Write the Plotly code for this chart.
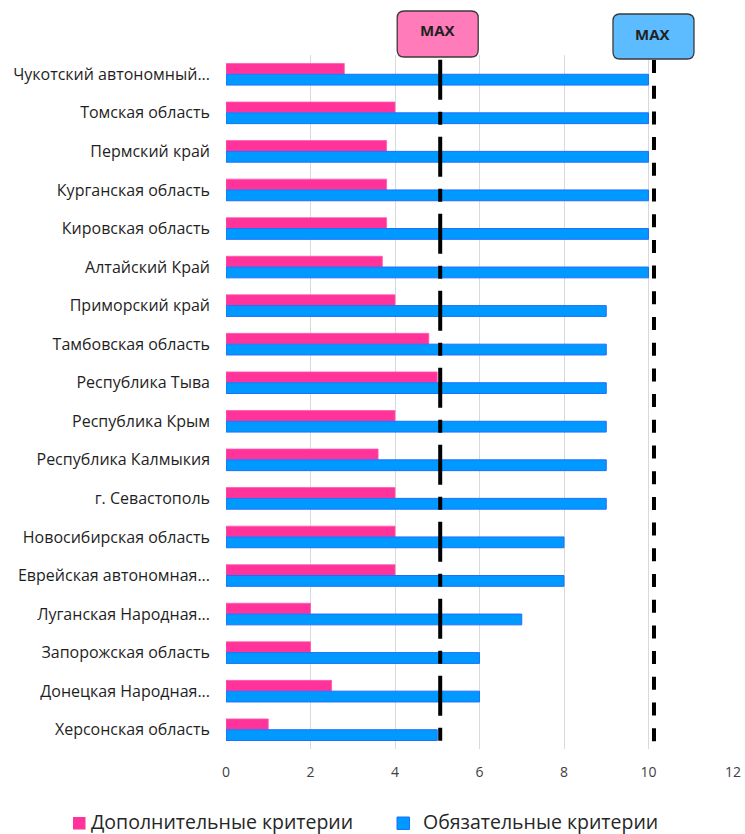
import plotly.graph_objects as go

# Regions, listed top to bottom as they appear on the chart
regions = [
    "Чукотский автономный...",
    "Томская область",
    "Пермский край",
    "Курганская область",
    "Кировская область",
    "Алтайский Край",
    "Приморский край",
    "Тамбовская область",
    "Республика Тыва",
    "Республика Крым",
    "Республика Калмыкия",
    "г. Севастополь",
    "Новосибирская область",
    "Еврейская автономная...",
    "Луганская Народная...",
    "Запорожская область",
    "Донецкая Народная...",
    "Херсонская область",
]

extra_scores = [2.8, 4, 3.8, 3.8, 3.8, 3.7, 4, 4.8, 5, 4, 3.6, 4, 4, 4, 2, 2, 2.5, 1]
mandatory_scores = [10, 10, 10, 10, 10, 10, 9, 9, 9, 9, 9, 9, 8, 8, 7, 6, 6, 5]

series_names = ["Дополнительные критерии", "Обязательные критерии"]
x_ticks = [0, 2, 4, 6, 8, 10, 12]

# Maximum marks for each group of criteria
max_extra = 5.07
max_mandatory = 10.13

PINK = "#ff3399"
BLUE = "#0099ff"

W, H = 745, 834
ML, MR, MT, MB = 226, 12, 55, 85
PW, PH = W - ML - MR, H - MT - MB


def px_to_paper_x(px):
    return (px - ML) / PW


def px_to_paper_y(py):
    return (H - MB - py) / PH


fig = go.Figure()
fig.add_trace(go.Bar(
    y=regions, x=extra_scores, orientation="h", name=series_names[0],
    marker=dict(color=PINK, line=dict(color="#ff5aac", width=0.8)),
    showlegend=False,
))
fig.add_trace(go.Bar(
    y=regions, x=mandatory_scores, orientation="h", name=series_names[1],
    marker=dict(color=BLUE, line=dict(color="#1f6fff", width=1)),
    showlegend=False,
))


def rounded_box(x0, x1, y0, y1, r):
    return (
        f"M {x0 + r},{y0} L {x1 - r},{y0} Q {x1},{y0} {x1},{y0 + r} "
        f"L {x1},{y1 - r} Q {x1},{y1} {x1 - r},{y1} "
        f"L {x0 + r},{y1} Q {x0},{y1} {x0},{y1 - r} "
        f"L {x0},{y0 + r} Q {x0},{y0} {x0 + r},{y0} Z"
    )


# dashed max lines (pixel offsets measured from the top of the plot area)
fig.add_shape(type="line", xref="x", yref="paper",
              xsizemode="pixel", xanchor=max_extra, x0=0, x1=0,
              ysizemode="pixel", yanchor=1, y0=-4.7, y1=-686.5,
              line=dict(color="black", width=4, dash="40px,12px,13px,12px"))
fig.add_shape(type="line", xref="x", yref="paper",
              xsizemode="pixel", xanchor=max_mandatory, x0=0, x1=0,
              ysizemode="pixel", yanchor=1, y0=-5, y1=-686.5,
              line=dict(color="black", width=4, dash="13px,12.7px"))

# MAX label boxes
fig.add_shape(type="path", xref="x", yref="paper",
              xsizemode="pixel", xanchor=max_extra,
              ysizemode="pixel", yanchor=1,
              path=rounded_box(-43, 38, -2, 44, 7),
              fillcolor="#ff7bb9", line=dict(color="#3a3a3a", width=1.3))
fig.add_shape(type="path", xref="x", yref="paper",
              xsizemode="pixel", xanchor=max_mandatory,
              ysizemode="pixel", yanchor=1,
              path=rounded_box(-41, 40, -4, 41, 7),
              fillcolor="#5cbcff", line=dict(color="#3a3a3a", width=1.3))

fig.add_annotation(x=max_extra, y=1, xref="x", yref="paper",
                   xanchor="center", yanchor="middle",
                   xshift=-3, yshift=25, text="<b>MAX</b>", showarrow=False,
                   font=dict(family="Open Sans", size=15, color="#222222"))
fig.add_annotation(x=max_mandatory, y=1, xref="x", yref="paper",
                   xanchor="center", yanchor="middle",
                   xshift=-1, yshift=21, text="<b>MAX</b>", showarrow=False,
                   font=dict(family="Open Sans", size=15, color="#222222"))

# legend drawn below the chart: square swatch followed by the series name
legend_items = [
    (series_names[0], PINK, None, 73, 89),
    (series_names[1], BLUE, "#1f6fff", 397, 421),
]
for name, color, edge, sq_x, text_x in legend_items:
    fig.add_shape(type="rect", xref="paper", yref="paper",
                  x0=px_to_paper_x(sq_x), x1=px_to_paper_x(sq_x + 12.5),
                  y0=px_to_paper_y(817), y1=px_to_paper_y(829.5),
                  fillcolor=color,
                  line=dict(color=edge or color, width=1 if edge else 0))
    fig.add_annotation(x=px_to_paper_x(text_x), y=px_to_paper_y(821),
                       xref="paper", yref="paper", xanchor="left",
                       yanchor="middle", text=name, showarrow=False,
                       font=dict(family="Open Sans", size=19.5,
                                 color="#262626"))

fig.update_layout(
    width=W, height=H,
    margin=dict(l=ML, r=MR, t=MT, b=MB),
    paper_bgcolor="white", plot_bgcolor="white",
    barmode="group", bargap=0.44, bargroupgap=0,
    font=dict(family="Open Sans", color="#262626"),
    showlegend=False,
    xaxis=dict(
        range=[0, 12], tickvals=x_ticks, ticktext=[str(v) for v in x_ticks],
        showgrid=True, gridcolor="#d9d9d9", gridwidth=1,
        zeroline=False, showline=False, ticks="",
        tickfont=dict(size=14, color="#404040"),
        ticklabelstandoff=13, automargin=False,
    ),
    yaxis=dict(
        autorange="reversed", showgrid=False, zeroline=False,
        showline=False, ticks="",
        tickfont=dict(size=16, color="#1f1f1f"),
        ticklabelstandoff=15, automargin=False,
    ),
)

fig.write_html("out.html")
